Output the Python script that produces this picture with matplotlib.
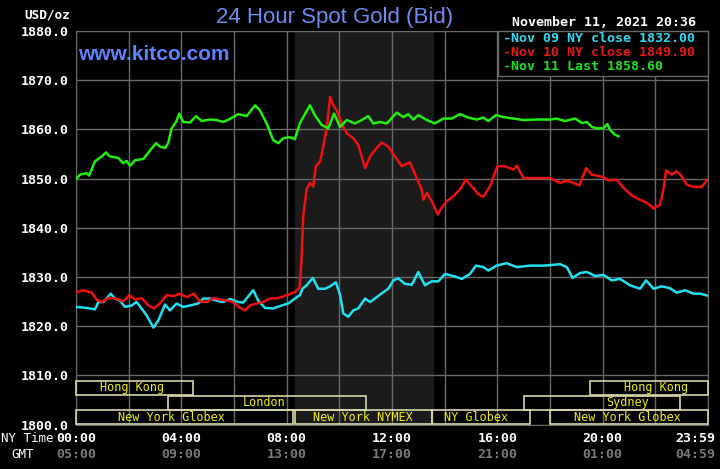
import matplotlib
matplotlib.use("Agg")
from matplotlib import pyplot as plt
from matplotlib.patches import Rectangle

# ---- data (hours since 00:00 NY time, price in USD/oz) ----
nov09_t = [0, 0.4, 0.72, 0.85, 1.04, 1.32, 1.48, 1.67, 1.86, 2.11, 2.3, 2.49, 2.68, 2.94, 3.13,
           3.38, 3.57, 3.82, 4.07, 4.33, 4.64, 4.83, 5.09, 5.34, 5.59, 5.85, 6.16, 6.35, 6.73, 6.92,
           7.18, 7.49, 7.81, 8.06, 8.31, 8.5, 8.6, 8.76, 8.99, 9.2, 9.46, 9.65, 9.87, 10.03, 10.15,
           10.34, 10.53, 10.72, 10.98, 11.17, 11.42, 11.67, 11.86, 12.05, 12.24, 12.49, 12.75, 13.0,
           13.25, 13.51, 13.76, 14.01, 14.33, 14.65, 14.96, 15.19, 15.47, 15.66, 15.97, 16.35, 16.74,
           17.24, 17.75, 18.0, 18.38, 18.64, 18.86, 19.14, 19.4, 19.71, 20.03, 20.35, 20.66, 21.04,
           21.42, 21.65, 21.93, 22.24, 22.56, 22.81, 23.13, 23.44, 23.7, 23.98]
nov09_v = [1823.9, 1823.7, 1823.4, 1824.9, 1824.9, 1826.6, 1825.6, 1825.2, 1823.9, 1824.2, 1824.9,
           1823.6, 1822.2, 1819.7, 1821.2, 1824.4, 1823.2, 1824.6, 1823.9, 1824.2, 1824.6, 1825.6,
           1825.6, 1825.2, 1824.9, 1825.5, 1824.9, 1824.8, 1827.3, 1825.2, 1823.7, 1823.6, 1824.2,
           1824.6, 1825.6, 1826.3, 1827.6, 1828.3, 1829.8, 1827.6, 1827.6, 1828.1, 1828.9, 1826.3,
           1822.6, 1821.9, 1823.2, 1823.6, 1825.6, 1824.9, 1825.9, 1826.9, 1827.6, 1829.3, 1829.7,
           1828.6, 1828.4, 1831.0, 1828.3, 1829.1, 1829.1, 1830.6, 1830.2, 1829.6, 1830.6, 1832.3,
           1832.0, 1831.3, 1832.3, 1832.8, 1832.0, 1832.3, 1832.3, 1832.4, 1832.6, 1832.0, 1829.8,
           1830.8, 1831.0, 1830.2, 1830.4, 1829.3, 1829.6, 1828.3, 1827.6, 1829.3, 1827.6, 1828.1,
           1827.7, 1826.8, 1827.3, 1826.6, 1826.6, 1826.2]

nov10_t = [0, 0.28, 0.6, 0.78, 0.98, 1.23, 1.55, 1.8, 2.02, 2.24, 2.49, 2.75, 2.96, 3.19, 3.44, 3.7,
           3.95, 4.2, 4.48, 4.71, 4.96, 5.21, 5.47, 5.72, 5.97, 6.2, 6.42, 6.61, 6.86, 7.11, 7.37,
           7.68, 8.0, 8.31, 8.5, 8.57, 8.63, 8.76, 8.88, 9.01, 9.11, 9.27, 9.39, 9.52, 9.65, 9.77,
           9.9, 10.09, 10.28, 10.53, 10.72, 10.85, 10.98, 11.17, 11.42, 11.61, 11.86, 12.1, 12.37,
           12.68, 12.94, 13.13, 13.19, 13.32, 13.51, 13.74, 13.89, 14.08, 14.33, 14.58, 14.81, 15.03,
           15.28, 15.47, 15.72, 16.0, 16.29, 16.61, 16.74, 16.99, 17.5, 18.0, 18.38, 18.64, 18.89,
           19.12, 19.37, 19.59, 20.03, 20.22, 20.53, 20.79, 21.1, 21.42, 21.74, 21.93, 22.18, 22.31,
           22.41, 22.62, 22.81, 23.0, 23.19, 23.44, 23.76, 23.98]
nov10_v = [1826.9, 1827.3, 1826.8, 1825.4, 1824.9, 1825.7, 1825.6, 1825.0, 1826.3, 1825.4, 1825.7,
           1824.2, 1823.6, 1824.6, 1826.3, 1826.1, 1826.6, 1825.9, 1826.6, 1825.0, 1824.9, 1825.7,
           1825.4, 1825.2, 1824.9, 1823.8, 1823.2, 1824.2, 1824.6, 1824.9, 1825.6, 1825.7, 1826.3,
           1826.9, 1827.9, 1834.3, 1842.4, 1847.8, 1849.1, 1848.4, 1852.5, 1853.5, 1856.5, 1860.2,
           1866.6, 1864.9, 1863.9, 1861.2, 1859.2, 1858.2, 1856.8, 1854.5, 1852.1, 1854.5, 1856.2,
           1857.3, 1856.5, 1854.6, 1852.5, 1853.3, 1850.1, 1847.8, 1845.7, 1847.1, 1845.4, 1842.7,
           1844.1, 1845.4, 1846.4, 1847.8, 1849.8, 1848.4, 1846.8, 1846.3, 1848.4, 1852.5, 1852.5,
           1851.8, 1852.6, 1850.1, 1850.1, 1850.1, 1849.1, 1849.6, 1849.1, 1848.6, 1852.1, 1850.8,
           1850.3, 1849.6, 1849.8, 1848.1, 1846.6, 1845.7, 1844.9, 1843.9, 1844.7, 1847.8, 1851.7,
           1850.8, 1851.5, 1850.5, 1848.8, 1848.3, 1848.3, 1849.8]

nov11_t = [0, 0.15, 0.4, 0.5, 0.72, 0.98, 1.14, 1.29, 1.6, 1.8, 1.92, 2.05, 2.24, 2.56, 2.81, 3.04,
           3.19, 3.38, 3.5, 3.63, 3.8, 3.92, 4.07, 4.33, 4.56, 4.77, 5.09, 5.34, 5.59, 5.84, 6.16,
           6.48, 6.8, 6.98, 7.24, 7.49, 7.68, 7.87, 8.12, 8.31, 8.5, 8.88, 9.07, 9.33, 9.58, 9.8,
           10.03, 10.28, 10.6, 10.85, 11.1, 11.29, 11.55, 11.8, 12.18, 12.43, 12.62, 12.81, 13.0,
           13.32, 13.63, 13.95, 14.27, 14.58, 14.9, 15.22, 15.47, 15.66, 15.95, 16.23, 16.61, 16.99,
           17.5, 18.0, 18.25, 18.57, 18.95, 19.21, 19.4, 19.59, 19.78, 20.03, 20.18, 20.28, 20.47,
           20.6]
nov11_v = [1849.8, 1850.8, 1851.1, 1850.6, 1853.5, 1854.5, 1855.3, 1854.5, 1854.2, 1853.1, 1853.6,
           1852.6, 1853.7, 1854.0, 1855.7, 1857.2, 1856.5, 1856.2, 1857.2, 1860.2, 1861.5, 1863.2,
           1861.5, 1861.4, 1862.7, 1861.7, 1862.0, 1861.9, 1861.5, 1862.1, 1863.1, 1862.7, 1864.9,
           1863.9, 1861.2, 1857.8, 1857.2, 1858.2, 1858.4, 1858.0, 1861.2, 1864.9, 1862.9, 1860.9,
           1860.2, 1863.2, 1860.5, 1861.9, 1861.2, 1861.9, 1862.7, 1861.2, 1861.5, 1861.2, 1863.4,
           1862.5, 1863.1, 1862.0, 1862.9, 1861.9, 1861.2, 1862.2, 1862.2, 1863.1, 1862.4, 1862.0,
           1862.4, 1861.7, 1862.9, 1862.5, 1862.2, 1861.9, 1862.0, 1862.0, 1862.2, 1861.7, 1862.2,
           1861.3, 1861.5, 1860.5, 1860.2, 1860.2, 1861.1, 1859.9, 1858.9, 1858.6]

legend_labels = ["-Nov 09 NY close 1832.00", "-Nov 10 NY close 1849.90", "-Nov 11 Last 1858.60"]

ny_ticks = [0, 4, 8, 12, 16, 20, 23.52]
ny_labels = ["00:00", "04:00", "08:00", "12:00", "16:00", "20:00", "23:59"]
gmt_labels = ["05:00", "09:00", "13:00", "17:00", "21:00", "01:00", "04:59"]

# market sessions: name, start, end, row (0 = bottom), label center
sess_names = ["Hong Kong", "Hong Kong", "London", "Sydney", "New York Globex",
              "New York NYMEX", "NY Globex", "New York Globex"]
sess_start = [0, 19.5, 3.5, 17.0, 0, 8.33, 13.5, 18.0]
sess_end = [4.45, 24, 11.0, 22.95, 8.25, 13.5, 17.25, 24]
sess_row = [2, 2, 1, 1, 0, 0, 0, 0]
sess_label_x = [2.13, 22.03, 7.14, 20.93, 3.63, 10.88, 15.19, 20.94]

pit_start, pit_end = 8.33, 13.55

# ---- figure ----
W, H = 720, 469
fig = plt.figure(figsize=(7.2, 4.69), dpi=100, facecolor="black")
ax = fig.add_axes([76 / W, 1 - 424.5 / H, 632 / W, 393.5 / H])
ax.set_facecolor("black")
ax.set_xlim(0, 24)
ax.set_ylim(1800, 1880)

ax.axvspan(pit_start, pit_end, color="#1b1b1b", zorder=0)

ax.set_xticks(range(0, 25, 2))
ax.set_yticks(range(1800, 1881, 10))
ax.set_xticklabels([])
ax.set_yticklabels(["%.1f" % v for v in range(1800, 1881, 10)],
                   color="white", fontsize=9.5, fontweight="bold", family="DejaVu Sans Mono")
ax.tick_params(length=0, pad=5)
ax.grid(True, color="#686868", linewidth=1)
ax.set_axisbelow(True)
for s in ax.spines.values():
    s.set_color("#686868")

# sessions
row_y = [1800.05, 1803.0, 1806.05]
row_h = 2.8
for name, a, b, r, lx in zip(sess_names, sess_start, sess_end, sess_row, sess_label_x):
    ax.add_patch(Rectangle((a, row_y[r]), b - a, row_h, fill=False,
                           edgecolor="#d8d8a8", linewidth=1.2, zorder=3, clip_on=False))
    ax.text(lx, row_y[r] + row_h / 2, name, color="#eeee10", fontsize=8.5,
            family="DejaVu Sans Mono", ha="center", va="center", zorder=4)

# price lines
ax.plot(nov09_t, nov09_v, color="#22e0f0", linewidth=1.8, zorder=5)
ax.plot(nov10_t, nov10_v, color="#f01010", linewidth=1.8, zorder=5)
ax.plot(nov11_t, nov11_v, color="#22ee10", linewidth=1.8, zorder=6)

# legend box
lx0, ly0, lx1, ly1 = 498, 31, 708, 76
fig.patches.append(Rectangle((lx0 / W, 1 - ly1 / H), (lx1 - lx0) / W, (ly1 - ly0) / H,
                             transform=fig.transFigure, facecolor="black",
                             edgecolor="#686868", linewidth=1, zorder=10))
leg_colors = ["#30d8f0", "#e81818", "#22e020"]
for i, (lab, c) in enumerate(zip(legend_labels, leg_colors)):
    fig.text(503 / W, 1 - (39 + 14 * i) / H, lab, color=c, fontsize=9.6, fontweight="bold",
             family="DejaVu Sans Mono", va="center", ha="left", zorder=11)

# header texts
fig.text(335 / W, 1 - 17 / H, "24 Hour Spot Gold (Bid)", color="#6f8cf0", fontsize=16,
         family="Liberation Sans", ha="center", va="center")
fig.text(78 / W, 1 - 55 / H, "www.kitco.com", color="#5f82ff", fontsize=15, fontweight="bold",
         family="Liberation Sans", ha="left", va="center")
fig.text(70 / W, 1 - 15 / H, "USD/oz", color="white", fontsize=9.2, fontweight="bold",
         family="DejaVu Sans Mono", ha="right", va="center")
fig.text(604 / W, 1 - 23 / H, "November 11, 2021 20:36", color="white", fontsize=9.5,
         fontweight="bold", family="DejaVu Sans Mono", ha="center", va="center")

# bottom time labels
fig.text(27 / W, 1 - 438 / H, "NY Time", color="white", fontsize=9, family="DejaVu Sans Mono",
         ha="center", va="center")
fig.text(23 / W, 1 - 454 / H, "GMT", color="white", fontsize=9, family="DejaVu Sans Mono",
         ha="center", va="center")
for t, a, g in zip(ny_ticks, ny_labels, gmt_labels):
    ax.text(t, -0.035, a, transform=ax.get_xaxis_transform(), color="white", fontsize=9.5,
            fontweight="bold", family="DejaVu Sans Mono", ha="center", va="center")
    ax.text(t, -0.076, g, transform=ax.get_xaxis_transform(), color="#7a7a7a", fontsize=9.5,
            fontweight="bold", family="DejaVu Sans Mono", ha="center", va="center")

fig.savefig("out.png", dpi=100, facecolor="black")
